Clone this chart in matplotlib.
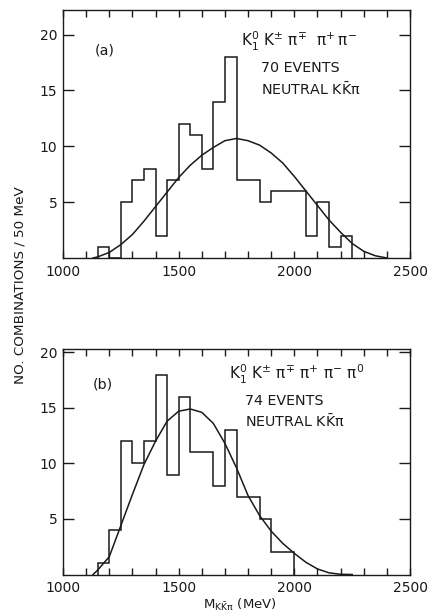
import matplotlib
matplotlib.use("Agg")
import matplotlib.pyplot as plt
from matplotlib.ticker import FixedLocator, FuncFormatter

# ---------------- data ----------------
bin_width = 50
# panel (a)
a_start = 1150
a_counts = [1, 0, 5, 7, 8, 2, 7, 12, 11, 8, 14, 18, 7, 7, 5, 6, 6, 6, 2, 5, 1, 2]
a_curve_x = [1130, 1150, 1200, 1250, 1300, 1350, 1400, 1450, 1500, 1550, 1600, 1650,
             1700, 1750, 1800, 1850, 1900, 1950, 2000, 2050, 2100, 2150, 2200, 2250,
             2300, 2350, 2400]
a_curve_y = [0.0, 0.1, 0.5, 1.2, 2.1, 3.3, 4.6, 5.9, 7.2, 8.3, 9.2, 9.9, 10.5, 10.7,
             10.5, 10.1, 9.4, 8.5, 7.3, 6.0, 4.7, 3.4, 2.3, 1.3, 0.6, 0.2, 0.0]
# panel (b)
b_start = 1150
b_counts = [1, 4, 12, 10, 12, 18, 9, 16, 11, 11, 8, 13, 7, 7, 5, 2, 2]
b_curve_x = [1130, 1150, 1200, 1250, 1300, 1350, 1400, 1450, 1500, 1550, 1600, 1650,
             1700, 1750, 1800, 1850, 1900, 1950, 2000, 2050, 2100, 2150, 2200, 2250]
b_curve_y = [0.0, 0.4, 1.6, 4.4, 7.2, 9.9, 12.0, 13.8, 14.7, 14.9, 14.6, 13.6,
             11.8, 9.6, 7.1, 5.3, 3.9, 2.8, 1.9, 1.1, 0.5, 0.15, 0.02, 0.0]

x_ticks = list(range(1000, 2501, 100))
x_labeled = [1000, 1500, 2000, 2500]
y_ticks = [5, 10, 15, 20]

INK = "#1a1a1a"

fig = plt.figure(figsize=(4.28, 6.16), dpi=100)
fig.patch.set_facecolor("white")

W, H = 428.0, 616.0
def add_axes(left, top, right, bottom):
    return fig.add_axes([left / W, 1 - bottom / H, (right - left) / W, (bottom - top) / H])

ax_a = add_axes(63, 10, 410, 258)
ax_b = add_axes(63, 349, 410, 574.5)

def style(ax, ymax):
    ax.set_xlim(1000, 2500)
    ax.set_ylim(0, ymax)
    for s in ax.spines.values():
        s.set_color(INK)
        s.set_linewidth(1.0)
    ax.xaxis.set_major_locator(FixedLocator(x_ticks))
    ax.xaxis.set_major_formatter(FuncFormatter(
        lambda v, p: str(int(round(v))) if int(round(v)) in x_labeled else ""))
    ax.tick_params(axis="x", direction="in", length=5, width=1.0,
                   top=True, bottom=True, colors=INK, pad=5, labelsize=10,
                   labelcolor=INK)
    ax.set_yticks(y_ticks)
    ax.set_yticklabels([str(v) for v in y_ticks])
    ax.tick_params(axis="y", direction="in", length=8, width=1.0, left=True,
                   right=True, labelsize=10, labelcolor=INK, colors=INK, pad=4)

def draw(ax, start, counts, cx, cy):
    edges = [start + i * bin_width for i in range(len(counts) + 1)]
    ax.stairs(counts, edges, baseline=0, fill=False, color=INK, linewidth=1.1)
    ax.plot(cx, cy, color=INK, linewidth=1.1)

style(ax_a, 22.2)
draw(ax_a, a_start, a_counts, a_curve_x, a_curve_y)
style(ax_b, 20.3)
draw(ax_b, b_start, b_counts, b_curve_x, b_curve_y)

fs = 10.3
fk = 11
ax_a.text(1180, 18.6, "(a)", fontsize=fs, ha="center", va="center", color=INK)
ax_a.text(2018, 19.4,
          r"$\mathregular{K_1^0\ K^{\pm}\ \pi^{\mp}\ \ \pi^{+}\,\pi^{-}}$",
          fontsize=fk, ha="center", va="center", color=INK)
ax_a.text(1857, 17.0, "70 EVENTS", fontsize=fs, ha="left", va="center", color=INK)
ax_a.text(1857, 15.1, r"NEUTRAL $\mathregular{K\bar{K}\pi}$", fontsize=fs,
          ha="left", va="center", color=INK)

ax_b.text(1172, 17.1, "(b)", fontsize=fs, ha="center", va="center", color=INK)
ax_b.text(2012, 18.0,
          r"$\mathregular{K_1^0\ K^{\pm}\ \pi^{\mp}\ \pi^{+}\ \pi^{-}\ \pi^{0}}$",
          fontsize=fk, ha="center", va="center", color=INK)
ax_b.text(1785, 15.6, "74 EVENTS", fontsize=fs, ha="left", va="center", color=INK)
ax_b.text(1785, 13.8, r"NEUTRAL $\mathregular{K\bar{K}\pi}$", fontsize=fs,
          ha="left", va="center", color=INK)

fig.text(20 / W, 1 - 285 / H, "NO. COMBINATIONS / 50 MeV", rotation=90,
         fontsize=9.7, ha="center", va="center", color=INK)
fig.text(240 / W, 1 - 605 / H, r"$\mathregular{M_{K\bar{K}\pi}}$ (MeV)",
         fontsize=9.5, ha="center", va="center", color=INK)

fig.savefig("out.png", dpi=100, facecolor="white")
